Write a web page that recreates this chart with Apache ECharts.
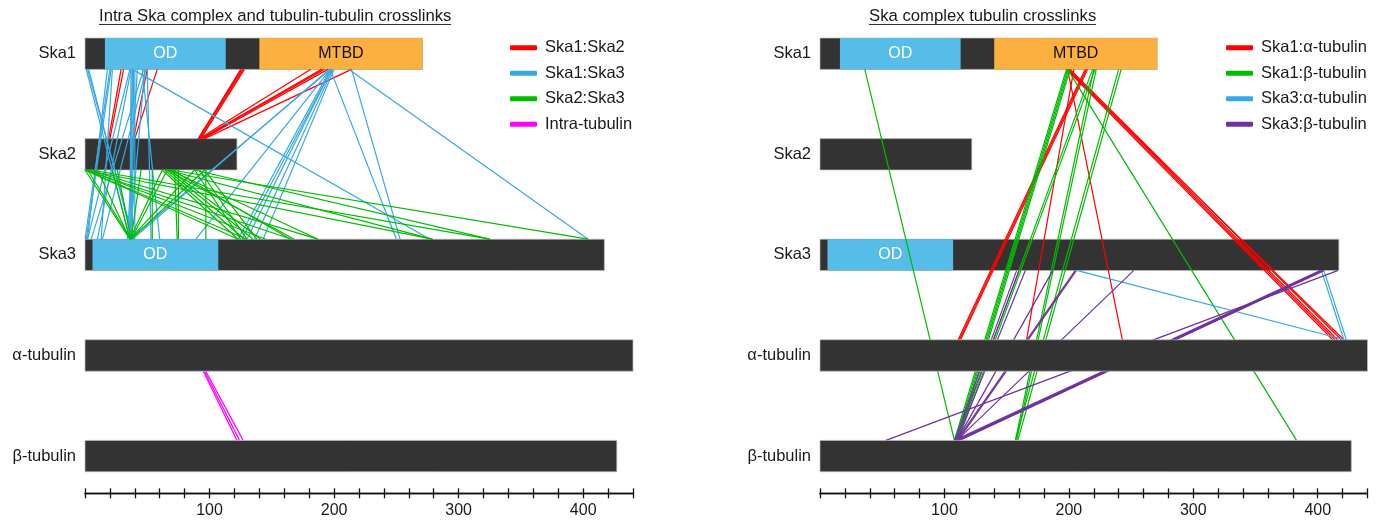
<!DOCTYPE html>
<html><head><meta charset="utf-8">
<script src="https://cdn.jsdelivr.net/npm/echarts@6/dist/echarts.min.js"></script>
<style>html,body{margin:0;padding:0;background:#fff}#c{width:1382px;height:522px}</style>
</head><body><div id="c"></div>
<script>
// ---------------- data ----------------
const proteins = ['Ska1', 'Ska2', 'Ska3', 'α-tubulin', 'β-tubulin'];
const proteinLengths = [271, 122, 417, 440, 427];
// [protein index, start residue, end residue, label]
const domains = [[0, 16, 113, 'OD'], [0, 140, 271, 'MTBD'], [2, 6, 107, 'OD']];
const axisTickLabels = [100, 200, 300, 400];
const titles = ['Intra Ska complex and tubulin-tubulin crosslinks', 'Ska complex tubulin crosslinks'];

// left panel crosslinks: [residue on first protein, residue on second protein]
const ska1Ska2 = [[29, 19], [31, 20], [50, 39], [58, 40], [125, 91], [126, 91], [127, 92], [128, 93],
  [181, 92], [190, 93], [192, 94], [195, 95], [214, 96]];
const ska1Ska3 = [[1, 36], [2, 39], [3, 38], [21, 1], [22, 13], [20, 0], [18, 2], [37, 36], [38, 37], [39, 38],
  [38, 36], [40, 40], [36, 2], [37, 10], [42, 34], [47, 5], [49, 14], [50, 53], [46, 60], [48, 36],
  [38, 277], [212, 404], [197, 250], [214, 253], [197, 36], [196, 38], [197, 89], [197, 123],
  [198, 126], [198, 130], [199, 136], [200, 143]];
const ska2Ska3 = [[0, 36], [2, 37], [10, 36], [22, 36], [26, 37], [45, 37], [62, 36], [66, 37], [88, 36], [96, 37],
  [0, 123], [0, 130], [2, 145], [0, 166], [3, 187], [54, 54], [75, 75], [97, 97], [72, 74],
  [62, 123], [64, 128], [66, 135], [68, 141], [70, 165], [66, 168], [68, 187],
  [88, 125], [92, 130], [96, 138], [0, 279], [5, 325], [66, 279], [88, 325], [69, 404]];
const intraTubulin = [[95, 122], [96, 124], [97, 127]];

// right panel crosslinks
const ska1Alpha = [[213, 111], [214, 112], [215, 113], [204, 166], [199, 243],
  [198, 412], [199, 414], [200, 416], [201, 419], [199, 421]];
const ska1Beta = [[36, 108], [198, 108], [199, 109], [200, 110], [201, 111], [219, 110], [221, 111],
  [220, 157], [222, 158], [240, 157], [242, 159], [199, 383]];
const ska3Alpha = [[207, 422], [403, 421], [405, 423]];
const ska3Beta = [[416, 53], [402, 108], [403, 110], [404, 111], [405, 112], [252, 110], [205, 110],
  [206, 111], [187, 110], [158, 108], [160, 109], [165, 110]];

// ---------------- chart ----------------
const FONT = '"Liberation Sans", Arial, sans-serif';
const TXT = '#1a1a1a';
const HALF = 0.156;
const C = { dark: '#333333', od: '#56bde8', mtbd: '#fbb040' };
const LINK = { red: '#ff0000', blue: '#37a9e1', green: '#00bb00', magenta: '#ff00ff', purple: '#7030a0' };

function barData(rowsWanted) {
  const rows = [];
  proteinLengths.forEach((len, i) => { if (rowsWanted.indexOf(i) >= 0) rows.push([0, i, len, 'base']); });
  domains.forEach(d => { if (rowsWanted.indexOf(d[0]) >= 0) rows.push([d[1], d[0], d[2], d[3]]); });
  return rows;
}

function barSeries(panel, rowsWanted, z) {
  return {
    type: 'custom', xAxisIndex: panel * 2, yAxisIndex: panel, z: z, silent: true,
    clip: false,
    data: barData(rowsWanted),
    renderItem: (params, api) => {
      const s = api.value(0), e = api.value(2), row = api.value(1), kind = api.value(3);
      const p0 = api.coord([s, row - HALF]);
      const p1 = api.coord([e, row + HALF]);
      const fill = kind === 'base' ? C.dark : (kind === 'MTBD' ? C.mtbd : C.od);
      const children = [{
        type: 'rect', shape: { x: p0[0], y: p0[1], width: p1[0] - p0[0], height: p1[1] - p0[1] },
        style: { fill: fill, stroke: kind === 'base' ? 'rgba(190,190,190,0.7)' : null, lineWidth: 1 }
      }];
      if (kind === 'base') {
        children.push({
          type: 'text', x: p0[0] - 9, y: (p0[1] + p1[1]) / 2,
          style: { text: proteins[row], textAlign: 'right', textVerticalAlign: 'middle',
            font: '16.5px ' + FONT, fill: TXT }
        });
      } else {
        children.push({
          type: 'text', x: (p0[0] + p1[0]) / 2, y: (p0[1] + p1[1]) / 2,
          style: { text: kind, textAlign: 'center', textVerticalAlign: 'middle',
            font: '16px ' + FONT, fill: kind === 'OD' ? '#ffffff' : '#111111' }
        });
      }
      return { type: 'group', children };
    }
  };
}

function linkSeries(panel, name, data, fromRow, toRow, color) {
  return {
    type: 'custom', name: name, xAxisIndex: panel * 2, yAxisIndex: panel, z: 3, silent: true,
    clip: false, itemStyle: { color: color },
    data: data,
    renderItem: (params, api) => {
      const a = api.coord([api.value(0), fromRow + HALF]);
      const b = api.coord([api.value(1), toRow - HALF]);
      return { type: 'line', shape: { x1: a[0], y1: a[1], x2: b[0], y2: b[1] },
        style: { stroke: color, lineWidth: 1.2 } };
    }
  };
}

const grids = [
  { left: 85, top: 3.4, width: 548, height: 489.9 },
  { left: 820, top: 3.4, width: 547.5, height: 489.9 }
];
const xAxes = [];
[0, 1].forEach(g => {
  xAxes.push({
    type: 'value', gridIndex: g, min: 0, max: 440, interval: 20, position: 'bottom', offset: 0,
    axisLine: { show: true, onZero: false, lineStyle: { color: '#111', width: 1.3 } },
    axisTick: { show: true, inside: false, length: 5, lineStyle: { color: '#111', width: 1.3 } },
    axisLabel: { margin: 9, fontSize: 16, fontFamily: FONT, color: TXT,
      formatter: v => axisTickLabels.indexOf(v) >= 0 ? String(v) : '' },
    splitLine: { show: false }
  });
  xAxes.push({
    type: 'value', gridIndex: g, min: 0, max: 440, interval: 20, position: 'bottom', offset: 0,
    axisLine: { show: true, onZero: false, lineStyle: { color: '#111', width: 1.3 } },
    axisTick: { show: true, inside: true, length: 5, lineStyle: { color: '#111', width: 1.3 } },
    axisLabel: { show: false }, splitLine: { show: false }
  });
});
const yAxes = [0, 1].map(g => ({
  type: 'value', gridIndex: g, min: -0.5, max: 4.37, inverse: true, show: false
}));

const legendCommon = {
  orient: 'vertical', itemWidth: 27, itemHeight: 5, itemGap: 5.5, icon: 'roundRect', padding: 0,
  textStyle: { fontSize: 16.5, fontFamily: FONT, color: TXT, lineHeight: 20, padding: [0, 0, 0, 3] },
  selectedMode: false
};

const option = {
  backgroundColor: '#ffffff',
  animation: false,
  title: [
    { text: titles[0], left: 99, top: 8, padding: 0,
      textStyle: { fontSize: 16.7, fontWeight: 'normal', fontFamily: FONT, color: TXT } },
    { text: titles[1], left: 869, top: 8, padding: 0,
      textStyle: { fontSize: 16.7, fontWeight: 'normal', fontFamily: FONT, color: TXT } }
  ],
  legend: [
    Object.assign({ left: 510, top: 37.7,
      data: [{ name: 'Ska1:Ska2', itemStyle: { color: LINK.red } }, { name: 'Ska1:Ska3', itemStyle: { color: LINK.blue } },
        { name: 'Ska2:Ska3', itemStyle: { color: LINK.green } }, { name: 'Intra-tubulin', itemStyle: { color: LINK.magenta } }] }, legendCommon),
    Object.assign({ left: 1226, top: 37.7,
      data: [{ name: 'Ska1:α-tubulin', itemStyle: { color: LINK.red } }, { name: 'Ska1:β-tubulin', itemStyle: { color: LINK.green } },
        { name: 'Ska3:α-tubulin', itemStyle: { color: LINK.blue } }, { name: 'Ska3:β-tubulin', itemStyle: { color: LINK.purple } }] }, legendCommon)
  ],
  grid: grids,
  xAxis: xAxes,
  yAxis: yAxes,
  graphic: [
    { type: 'line', shape: { x1: 99, y1: 24.5, x2: 451, y2: 24.5 }, style: { stroke: '#333', lineWidth: 1 } },
    { type: 'line', shape: { x1: 869, y1: 24.5, x2: 1096, y2: 24.5 }, style: { stroke: '#333', lineWidth: 1 } }
  ],
  series: [
    barSeries(0, [0, 1, 2], 1), barSeries(1, [0, 1, 2], 1),
    barSeries(0, [3, 4], 5), barSeries(1, [3, 4], 5),
    linkSeries(0, 'Ska1:Ska2', ska1Ska2, 0, 1, LINK.red),
    linkSeries(0, 'Ska1:Ska3', ska1Ska3, 0, 2, LINK.blue),
    linkSeries(0, 'Ska2:Ska3', ska2Ska3, 1, 2, LINK.green),
    linkSeries(0, 'Intra-tubulin', intraTubulin, 3, 4, LINK.magenta),
    linkSeries(1, 'Ska1:α-tubulin', ska1Alpha, 0, 3, LINK.red),
    linkSeries(1, 'Ska1:β-tubulin', ska1Beta, 0, 4, LINK.green),
    linkSeries(1, 'Ska3:α-tubulin', ska3Alpha, 2, 3, LINK.blue),
    linkSeries(1, 'Ska3:β-tubulin', ska3Beta, 2, 4, LINK.purple)
  ]
};
const chart = echarts.init(document.getElementById('c'));
chart.setOption(option);
</script>
</body></html>
